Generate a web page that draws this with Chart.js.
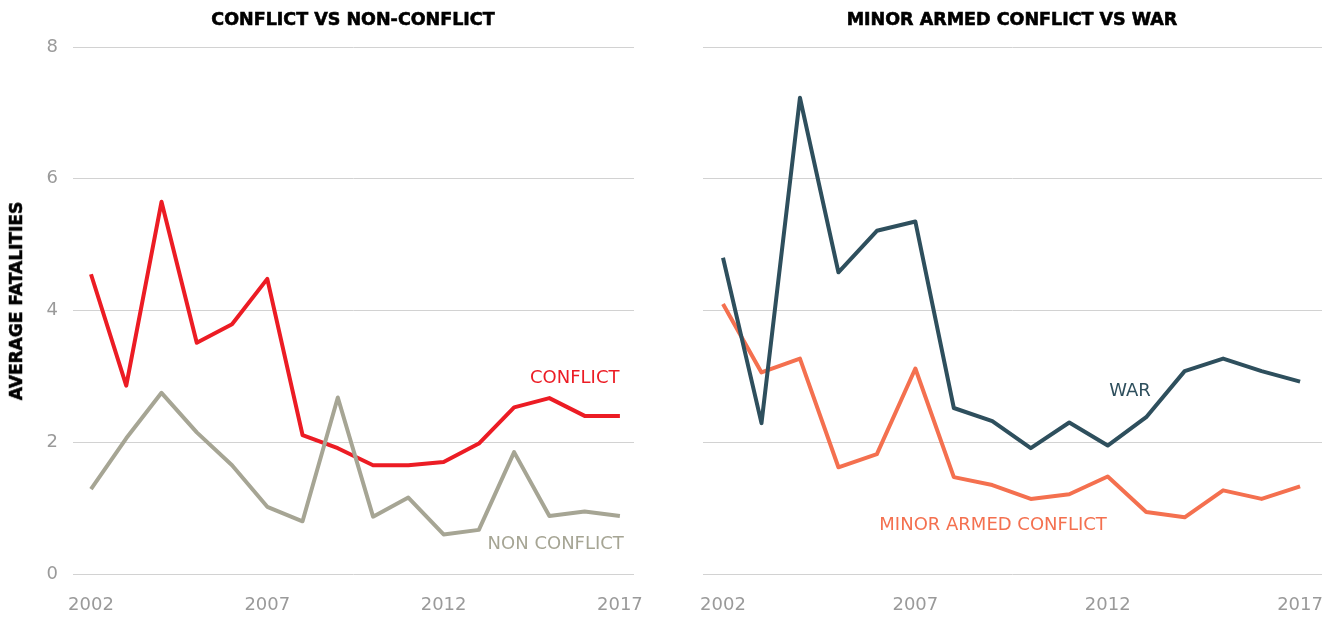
<!DOCTYPE html>
<html>
<head>
<meta charset="utf-8">
<title>Average fatalities</title>
<script src="https://cdn.jsdelivr.net/npm/chart.js@4.4.1/dist/chart.umd.min.js"></script>
<style>
  html, body { margin: 0; padding: 0; background: #fff; }
  #page { position: relative; width: 1330px; height: 619px; overflow: hidden; }
  .panel { position: absolute; top: 0; }
  .chart-title {
    position: absolute; top: 9px; transform: translateX(-50%);
    font-family: "DejaVu Sans", sans-serif; font-weight: bold; font-size: 17.5px;
    -webkit-text-stroke: 0.6px #000; color: #000; white-space: nowrap;
  }
  #yTitle {
    position: absolute; left: 16px; top: 301px;
    transform: translate(-50%, -50%) rotate(-90deg);
    font-family: "DejaVu Sans", sans-serif; font-weight: bold; font-size: 17px;
    -webkit-text-stroke: 0.6px #000; color: #000; white-space: nowrap;
  }
</style>
</head>
<body>
<div id="page">
  <div class="panel" style="left:0"><canvas id="leftChart" width="670" height="619"></canvas></div>
  <div class="panel" style="left:660px"><canvas id="rightChart" width="700" height="619"></canvas></div>
  <div class="chart-title" style="left:353px">CONFLICT VS NON-CONFLICT</div>
  <div class="chart-title" style="left:1012px">MINOR ARMED CONFLICT VS WAR</div>
  <div id="yTitle">AVERAGE FATALITIES</div>
</div>

<script>
// ── DATA ──────────────────────────────────────────────────────
const years = [2002, 2003, 2004, 2005, 2006, 2007, 2008, 2009, 2010, 2011, 2012, 2013, 2014, 2015, 2016, 2017];

const conflict    = [4.55, 2.86, 5.65, 3.51, 3.79, 4.48, 2.11, 1.91, 1.65, 1.65, 1.70, 1.98, 2.53, 2.67, 2.40, 2.40];
const nonConflict = [1.29, 2.06, 2.75, 2.15, 1.65, 1.02, 0.80, 2.68, 0.87, 1.16, 0.60, 0.67, 1.85, 0.88, 0.95, 0.88];

const war         = [4.80, 2.29, 7.23, 4.58, 5.21, 5.35, 2.52, 2.32, 1.91, 2.30, 1.95, 2.38, 3.08, 3.27, 3.08, 2.92];
const minorArmed  = [4.10, 3.06, 3.27, 1.62, 1.82, 3.12, 1.47, 1.35, 1.14, 1.21, 1.48, 0.94, 0.86, 1.27, 1.14, 1.33];

const xTickValues = [2002, 2007, 2012, 2017];
const yTickValues = [0, 2, 4, 6, 8];

// ── STYLE ─────────────────────────────────────────────────────
const COLORS = {
    conflict: '#ec1c24',
    nonConflict: '#a6a594',
    war: '#2e4f5d',
    minor: '#f4704f',
    grid: '#d2d2d2',
    tick: '#9a9a9a'
};
const FONT = 'DejaVu Sans';

const toPoints = (vals) => years.map((yr, i) => ({ x: yr, y: vals[i] }));

// inline series labels, placed in data units
const seriesLabels = {
    id: 'seriesLabels',
    afterDatasetsDraw(chart, args, opts) {
        const { ctx, scales: { x, y } } = chart;
        ctx.save();
        ctx.font = '18px "' + FONT + '"';
        ctx.textAlign = 'center';
        ctx.textBaseline = 'middle';
        (opts.items || []).forEach(it => {
            ctx.fillStyle = it.color;
            ctx.fillText(it.text, x.getPixelForValue(it.x), y.getPixelForValue(it.y));
        });
        ctx.restore();
    }
};

function lineSet(vals, color) {
    return {
        data: toPoints(vals),
        borderColor: color,
        borderWidth: 4,
        pointRadius: 0,
        tension: 0,
        borderJoinStyle: 'round',
        fill: false
    };
}

function buildOptions(xMin, xMax, yAxisWidth, showYTicks, padRight, labels) {
    return {
        responsive: false,
        animation: false,
        layout: { padding: { top: 47, right: padRight, left: 0, bottom: 0 } },
        plugins: {
            legend: { display: false },
            tooltip: { enabled: false },
            seriesLabels: { items: labels }
        },
        scales: {
            x: {
                type: 'linear', min: xMin, max: xMax,
                grid: { display: false },
                border: { display: false },
                afterBuildTicks: (s) => { s.ticks = xTickValues.map(v => ({ value: v })); },
                afterFit: (s) => { s.height = 45; },
                ticks: {
                    color: COLORS.tick, padding: 13, maxRotation: 0, autoSkip: false,
                    font: { family: FONT, size: 18 },
                    callback: (v) => String(v)
                }
            },
            y: {
                min: 0, max: 8,
                grid: { color: COLORS.grid, lineWidth: 1, drawTicks: false },
                border: { display: false },
                afterBuildTicks: (s) => { s.ticks = yTickValues.map(v => ({ value: v })); },
                afterFit: (s) => { s.width = yAxisWidth; },
                ticks: {
                    display: showYTicks, color: COLORS.tick, padding: 15,
                    font: { family: FONT, size: 18 },
                    callback: (v) => String(v)
                }
            }
        }
    };
}

// ── CHARTS ────────────────────────────────────────────────────
new Chart(document.getElementById('leftChart'), {
    type: 'line',
    data: {
        datasets: [
            lineSet(nonConflict, COLORS.nonConflict),
            lineSet(conflict, COLORS.conflict)
        ]
    },
    options: buildOptions(2001.49, 2017.4, 73, true, 36, [
        { text: 'CONFLICT', x: 2015.72, y: 2.97, color: COLORS.conflict },
        { text: 'NON CONFLICT', x: 2015.18, y: 0.45, color: COLORS.nonConflict }
    ]),
    plugins: [seriesLabels]
});

new Chart(document.getElementById('rightChart'), {
    type: 'line',
    data: {
        datasets: [
            lineSet(war, COLORS.war),
            lineSet(minorArmed, COLORS.minor)
        ]
    },
    options: buildOptions(2001.48, 2017.57, 43, false, 38, [
        { text: 'WAR', x: 2012.58, y: 2.77, color: COLORS.war },
        { text: 'MINOR ARMED CONFLICT', x: 2009.02, y: 0.74, color: COLORS.minor }
    ]),
    plugins: [seriesLabels]
});
</script>
</body>
</html>
